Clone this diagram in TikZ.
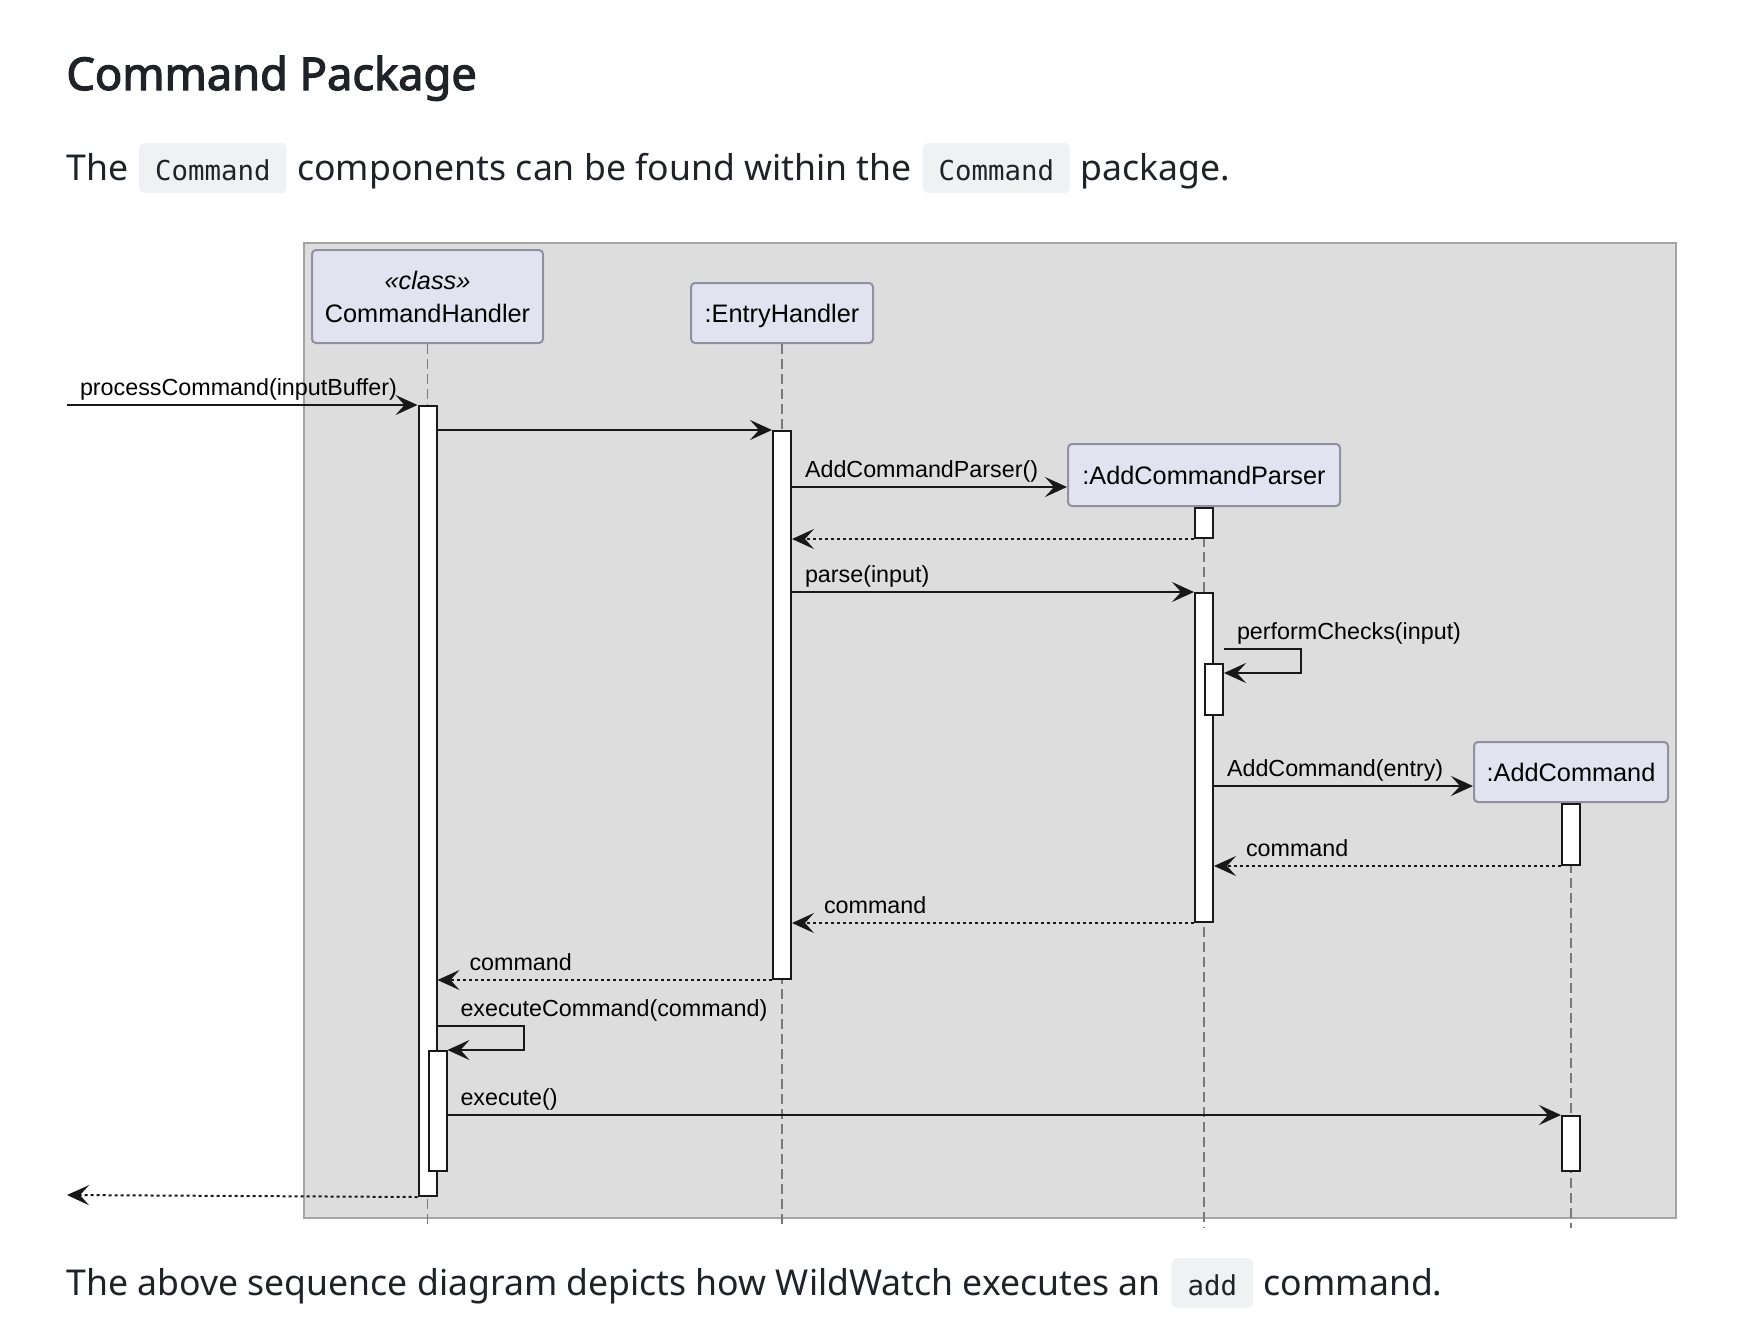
\documentclass[tikz,border=0pt]{standalone}
\usepackage{fontspec}
\setmainfont{Noto Sans}[AutoFakeBold=2.6]
\setmonofont{DejaVu Sans Mono}
\newfontfamily\umlfont{Liberation Sans}
\usetikzlibrary{arrows.meta, positioning}
\definecolor{textcol}{HTML}{1F2328}
\definecolor{codebg}{HTML}{EFF1F3}
\definecolor{framefill}{HTML}{DDDDDD}
\definecolor{frameline}{HTML}{A4A4A4}
\definecolor{partfill}{HTML}{E2E2F0}
\definecolor{partline}{HTML}{9090A0}
\definecolor{umlline}{HTML}{181818}
\newcommand{\msgfont}{\umlfont\fontsize{11.65pt}{14pt}\selectfont}
\newcommand{\partfont}{\umlfont\fontsize{12.65pt}{16.5pt}\selectfont}

\begin{document}
\begin{tikzpicture}[x=0.5pt, y=-0.5pt,
    heading/.style={inner sep=0, anchor=base west, text=textcol, font=\fontsize{22.6pt}{26pt}\selectfont\bfseries},
    body/.style={inner sep=0, anchor=base west, text=textcol, font=\fontsize{17.8pt}{22pt}\selectfont},
    code/.style={anchor=base west, fill=codebg, rounded corners=3pt, inner xsep=8pt, inner ysep=0pt,
        text height=18.5pt, text depth=6.5pt, text=textcol, font=\ttfamily\fontsize{13.7pt}{16pt}\selectfont},
    part/.style={draw=partline, fill=partfill, line width=1pt, rounded corners=2pt, align=center, font=\partfont},
    onepart/.style={part, text height=12.2pt, text depth=2.7pt},
    lifeline/.style={draw=gray!95!black, line width=0.75pt, dash pattern=on 5pt off 2.5pt},
    actbar/.style={draw=umlline, fill=white, line width=1pt, minimum width=9pt, inner sep=0, anchor=north},
    msg/.style={draw=umlline, line width=1pt, -{Stealth[length=11pt, width=10pt, inset=4.5pt]}},
    ret/.style={msg, dash pattern=on 1.5pt off 1.5pt},
    lbl/.style={inner sep=0, anchor=base west, xshift=6pt, yshift=5pt, font=\msgfont},
    rlbl/.style={lbl, xshift=9.5pt}]

  \fill[white] (0,0) rectangle (1756,1334);
  \useasboundingbox (0,0) rectangle (1756,1334);

  % page text
  \node[heading] (title) at (66,90) {Command Package};
  \node[body] (p1) at (66,180) {The};
  \node[code] (p2) at ([xshift=5pt]p1.base east) {Command};
  \node[body] (p3) at ([xshift=5pt]p2.base east) {components can be found within the};
  \node[code] (p4) at ([xshift=5pt]p3.base east) {Command};
  \node[body] (p5) at ([xshift=5pt]p4.base east) {package.};

  % sequence diagram
  \draw[fill=framefill, draw=frameline, line width=1pt] (304,243) rectangle (1676,1218);

  \node[part, minimum width=115.5pt, minimum height=46.5pt] (ch) at (427.5,296.5) {\textit{«class»}\\CommandHandler};
  \node[onepart, minimum width=91pt, minimum height=30pt] (eh) at (782,313) {:EntryHandler};
  \node[onepart, minimum width=136pt, minimum height=31pt] (acp) at (1204,475) {:AddCommandParser};
  \node[onepart, minimum width=97pt, minimum height=30pt] (ac) at (1571,772) {:AddCommand};

  \coordinate (llend) at (0,1228);
  \foreach \p in {ch, eh, acp, ac}
    \draw[lifeline] (\p.south) -- (\p.south |- llend);

  \node[actbar, minimum height=395pt] (chA) at (ch.south |- 0,405) {};
  \node[actbar, minimum height=274pt] (ehA) at (eh.south |- 0,430) {};
  \node[actbar, minimum height=15pt] (acpA) at (acp.south) {};
  \node[actbar, minimum height=164.5pt] (acpB) at (acp.south |- 0,592) {};
  \node[actbar, minimum height=25.5pt] (acpC) at (acpB.north east |- 0,663) {};
  \node[actbar, minimum height=30.5pt] (acA) at (ac.south) {};
  \node[actbar, minimum height=27.5pt] (acB) at (ac.south |- 0,1115) {};
  \node[actbar, minimum height=60pt] (chB) at (chA.north east |- 0,1050) {};

  \coordinate (inL) at (67,405);
  \coordinate (outL) at (67,1195);
  \coordinate (acpIn) at ([yshift=-6pt]acp.west);
  \coordinate (acIn) at ([yshift=-7pt]ac.west);

  \draw[msg] (inL) -- node[lbl, pos=0] {processCommand(inputBuffer)} (chA.north west);
  \draw[msg] (chA.east |- ehA.north) -- (ehA.north west);
  \draw[msg] (ehA.east |- acpIn) -- node[lbl, pos=0] {AddCommandParser()} (acpIn);
  \draw[ret] (acpA.south west) -- (ehA.east |- acpA.south);
  \draw[msg] (ehA.east |- acpB.north) -- node[lbl, pos=0] {parse(input)} (acpB.north west);
  \draw[msg] (acpC.east |- 0,649) -- node[lbl, pos=0] {performChecks(input)} ++(77,0) |- (acpC.east |- 0,673);
  \draw[msg] (acpB.east |- acIn) -- node[lbl, pos=0] {AddCommand(entry)} (acIn);
  \draw[ret] (acA.south west) -- node[rlbl, pos=1] {command} (acpB.east |- acA.south);
  \draw[ret] (acpB.south west) -- node[rlbl, pos=1] {command} (ehA.east |- acpB.south);
  \draw[ret] (ehA.south west) -- node[rlbl, pos=1] {command} (chA.east |- ehA.south);
  \draw[msg] (chA.east |- 0,1026) -- node[lbl, pos=0, xshift=5pt] {executeCommand(command)} ++(86,0) |- (chB.east |- 0,1050);
  \draw[msg] (chB.east |- acB.north) -- node[lbl, pos=0] {execute()} (acB.north west);
  \draw[ret] (chA.south west) -- (outL);

  % caption
  \node[body] (q1) at (66,1295) {The above sequence diagram depicts how WildWatch executes an};
  \node[code] (q2) at ([xshift=5pt]q1.base east) {add};
  \node[body] (q3) at ([xshift=5pt]q2.base east) {command.};
\end{tikzpicture}
\end{document}
